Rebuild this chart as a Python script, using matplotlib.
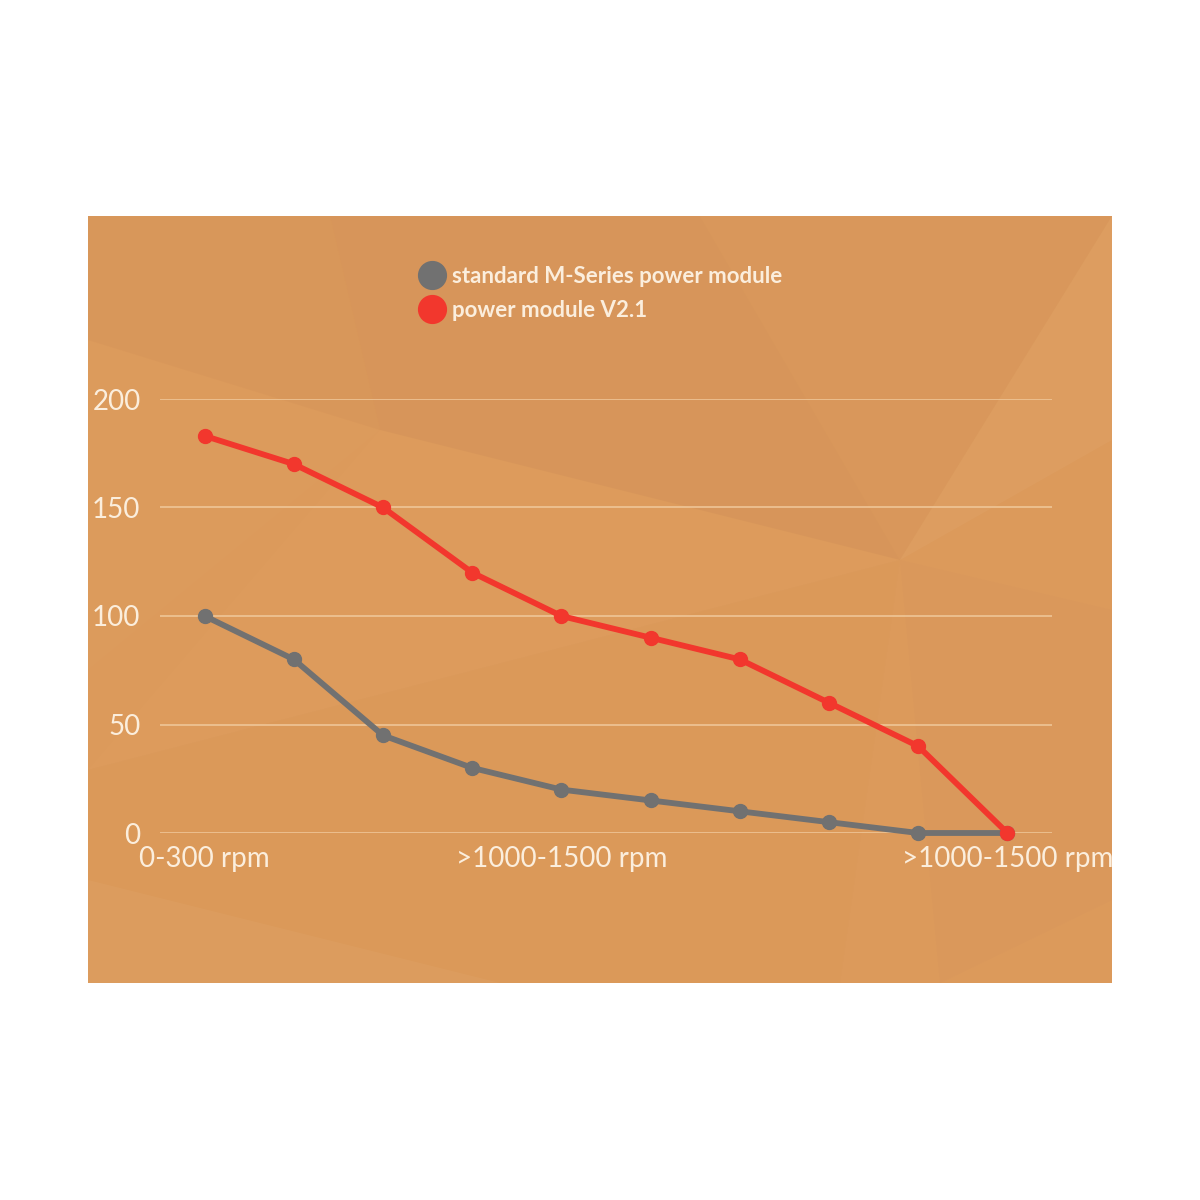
import matplotlib
matplotlib.use("Agg")
import matplotlib.pyplot as plt
from matplotlib.patches import Polygon, Rectangle
from matplotlib.lines import Line2D

# ---- data ----
categories = ["0-300 rpm", "", "", "", ">1000-1500 rpm", "", "", "", "", ">1000-1500 rpm"]
standard = [100, 80, 45, 30, 20, 15, 10, 5, 0, 0]
v21 = [183, 170, 150, 120, 100, 90, 80, 60, 40, 0]
series_names = ["standard M-Series power module", "power module V2.1"]
y_ticks = [0, 50, 100, 150, 200]

W = H = 1200
fig = plt.figure(figsize=(12, 12), dpi=100)
fig.patch.set_facecolor("white")

def fx(px):
    return px / W

def fy(py):
    return 1 - py / H

# background panel
bg = fig.add_axes([fx(88), fy(983), fx(1112 - 88), (983 - 216) / H])
bg.set_xlim(88, 1112)
bg.set_ylim(983, 216)
bg.axis("off")
bg.add_patch(Rectangle((88, 216), 1024, 767, facecolor="#DC9A5B", edgecolor="none"))
facets = [
    ([(88, 216), (330, 216), (380, 430), (88, 340)], "#D6955A", 0.5),
    ([(330, 216), (700, 216), (900, 560), (380, 430)], "#D39159", 0.45),
    ([(700, 216), (1112, 216), (900, 560)], "#D7965B", 0.5),
    ([(1112, 216), (1112, 440), (900, 560)], "#DEA064", 0.6),
    ([(88, 340), (380, 430), (88, 670)], "#DD9C5E", 0.5),
    ([(380, 430), (900, 560), (88, 770)], "#DF9F60", 0.35),
    ([(900, 560), (1112, 610), (1112, 900), (940, 983)], "#D8965B", 0.45),
    ([(88, 770), (900, 560), (840, 983), (88, 983)], "#DA9858", 0.35),
    ([(88, 880), (500, 983), (88, 983)], "#DEA064", 0.5),
]
for pts, c, a in facets:
    bg.add_patch(Polygon(pts, closed=True, facecolor=c, edgecolor="none", alpha=a))

# main axes
ax = fig.add_axes([fx(160), fy(833), fx(1052 - 160), (833 - 399) / H])
ax.patch.set_alpha(0)
x = list(range(len(categories)))
ax.set_xlim(-0.5, len(categories) - 0.5)
ax.set_ylim(0, 200)
for s in ax.spines.values():
    s.set_visible(False)
ax.set_yticks(y_ticks)
ax.set_yticklabels([str(v) for v in y_ticks])
ax.yaxis.grid(True, color="#F0C99C", linewidth=1.1)
ax.set_axisbelow(True)
ax.tick_params(axis="y", length=0, pad=14, labelsize=20, labelcolor="#FBEEDD")
ax.set_xticks(x)
ax.set_xticklabels(categories)
ax.tick_params(axis="x", length=0, pad=9, labelsize=20, labelcolor="#FBEEDD")
for lbl in ax.get_xticklabels() + ax.get_yticklabels():
    lbl.set_fontfamily("Lato")
    lbl.set_fontweight("normal")

gray = "#717171"
red = "#F2372D"
ax.plot(x, standard, color=gray, linewidth=4.2, marker="o", markersize=10, clip_on=False, zorder=3,
        solid_capstyle="round")
ax.plot(x, v21, color=red, linewidth=4.2, marker="o", markersize=10, clip_on=False, zorder=4,
        solid_capstyle="round")

# legend
handles = [Line2D([], [], linestyle="none", marker="o", markersize=20, color=gray),
           Line2D([], [], linestyle="none", marker="o", markersize=20, color=red)]
leg = fig.legend(handles, series_names, loc="upper left", bbox_to_anchor=(fx(396), fy(246)),
                 frameon=False, handletextpad=0.2, labelspacing=0.58, handlelength=1.4,
                 prop={"family": "Lato", "weight": "bold", "size": 16})
for t in leg.get_texts():
    t.set_color("#FBEEDD")

fig.savefig("out.png", dpi=100, facecolor="white")
